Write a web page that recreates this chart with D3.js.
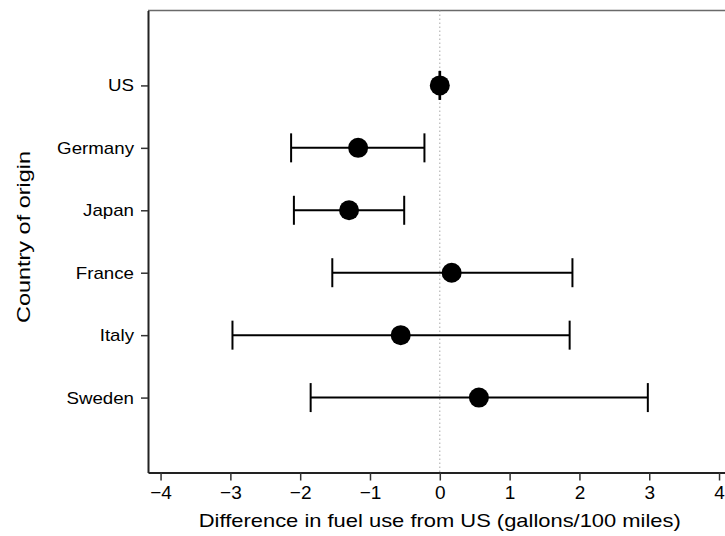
<!DOCTYPE html>
<html>
<head>
<meta charset="utf-8">
<script src="https://cdn.jsdelivr.net/npm/d3@7"></script>
<style>
  body { margin: 0; background: #fff; }
  svg { display: block; }
  text { font-family: "Liberation Sans", Arial, Helvetica, sans-serif; fill: #000; }
</style>
</head>
<body>
<div id="chart"></div>
<script>
// data
var countries = ["US", "Germany", "Japan", "France", "Italy", "Sweden"];
var estimate  = [0.00, -1.17, -1.30, 0.17, -0.56, 0.56];
var lower     = [-0.005, -2.13, -2.09, -1.54, -2.97, -1.85];
var upper     = [0.005, -0.22, -0.51, 1.90, 1.86, 2.98];
var xTicks    = [-4, -3, -2, -1, 0, 1, 2, 3, 4];

var width = 725, height = 536;

var svg = d3.select("#chart")
            .append("svg")
            .attr("width", width)
            .attr("height", height);

// scales
var x = d3.scaleLinear().domain([-4.18, 4.18]).range([148, 731.6]);
var y = d3.scaleLinear().domain([-1.2, 6.2]).range([10.5, 472.5]);

var rows = countries.map(function(c, i) {
  return {name: c, i: i, est: estimate[i], lo: lower[i], hi: upper[i]};
});

// top frame line (grey)
svg.append("line")
   .attr("x1", x.range()[0]).attr("x2", x.range()[1])
   .attr("y1", y.range()[0]).attr("y2", y.range()[0])
   .style("stroke", "#6a6a6a")
   .style("stroke-width", 1.5);

// dotted zero reference line
svg.append("line")
   .attr("x1", x(0)).attr("x2", x(0))
   .attr("y1", y.range()[0]).attr("y2", y.range()[1])
   .style("stroke", "#a8a8a8")
   .style("stroke-width", 1)
   .style("stroke-dasharray", "1.5,2.5");

// x axis
var xAxis = svg.append("g")
   .attr("transform", "translate(0," + y.range()[1] + ")")
   .call(d3.axisBottom(x).tickValues(xTicks).tickSizeInner(8).tickSizeOuter(0).tickPadding(4)
           .tickFormat(function(d) { return d < 0 ? "\u2212" + Math.abs(d) : d; }));
xAxis.select(".domain").style("stroke", "#222").style("stroke-width", 2);
xAxis.selectAll(".tick line").style("stroke", "#333").style("stroke-width", 1.5);
xAxis.selectAll("text").style("font-size", "19px").attr("dy", "0.76em");

// y axis
var yAxis = svg.append("g")
   .attr("transform", "translate(" + x.range()[0] + ",0)")
   .call(d3.axisLeft(y).tickValues(d3.range(countries.length)).tickSizeInner(7).tickSizeOuter(0).tickPadding(7)
           .tickFormat(function(d) { return countries[d]; }));
yAxis.select(".domain").style("stroke", "#222").style("stroke-width", 2);
yAxis.selectAll(".tick line").style("stroke", "#333").style("stroke-width", 1.5);
yAxis.selectAll("text").style("font-size", "17px");

// error bars
var bars = svg.append("g").selectAll("g.row")
   .data(rows)
   .enter().append("g")
   .attr("class", "row");

bars.append("line")
   .attr("x1", function(d) { return x(d.lo); })
   .attr("x2", function(d) { return x(d.hi); })
   .attr("y1", function(d) { return y(d.i); })
   .attr("y2", function(d) { return y(d.i); })
   .style("stroke", "#000").style("stroke-width", 2);

bars.selectAll("line.cap")
   .data(function(d) { return [{v: d.lo, i: d.i}, {v: d.hi, i: d.i}]; })
   .enter().append("line")
   .attr("class", "cap")
   .attr("x1", function(d) { return x(d.v); })
   .attr("x2", function(d) { return x(d.v); })
   .attr("y1", function(d) { return y(d.i) - 14.5; })
   .attr("y2", function(d) { return y(d.i) + 14.5; })
   .style("stroke", "#000").style("stroke-width", 2);

bars.append("circle")
   .attr("cx", function(d) { return x(d.est); })
   .attr("cy", function(d) { return y(d.i); })
   .attr("r", 10)
   .style("fill", "#000");

// axis titles, stretched to the widths measured on the picture
svg.append("text")
   .attr("x", x(0))
   .attr("y", 527)
   .attr("text-anchor", "middle")
   .attr("textLength", 482)
   .attr("lengthAdjust", "spacingAndGlyphs")
   .style("font-size", "19px")
   .text("Difference in fuel use from US (gallons/100 miles)");

svg.append("text")
   .attr("transform", "translate(30,237) rotate(-90)")
   .attr("text-anchor", "middle")
   .attr("textLength", 172)
   .attr("lengthAdjust", "spacingAndGlyphs")
   .style("font-size", "19px")
   .text("Country of origin");

// tick labels are a bit wider than Liberation Sans
yAxis.selectAll(".tick text").each(function() {
  var w = this.getComputedTextLength();
  d3.select(this).attr("textLength", w * 1.1).attr("lengthAdjust", "spacingAndGlyphs");
});
</script>
</body>
</html>
